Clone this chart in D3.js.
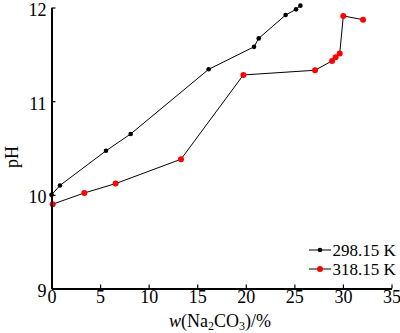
<!DOCTYPE html>
<html><head><meta charset="utf-8">
<script src="https://cdn.jsdelivr.net/npm/d3@7"></script>
<style>body{margin:0;background:#fff}svg{display:block}
svg text{font-family:"Liberation Serif","Tinos","Times New Roman","Nimbus Roman","Noto Serif","DejaVu Serif",serif;}
</style>
</head><body>
<svg id="c" width="400" height="333"></svg>
<script>
const w298 = [0, 0.87, 5.61, 8.15, 16.18, 20.85, 21.33, 24.1, 25.17, 25.62];
const pH298 = [10.0, 10.10, 10.47, 10.65, 11.34, 11.58, 11.67, 11.92, 11.98, 12.02];
const w318 = [0.12, 3.38, 6.6, 13.33, 19.75, 27.13, 28.88, 29.25, 29.67, 30.04, 32.07];
const pH318 = [9.90, 10.02, 10.12, 10.38, 11.28, 11.33, 11.43, 11.47, 11.51, 11.91, 11.87];
const seriesNames = ["298.15 K", "318.15 K"];
const xTicks = [0, 5, 10, 15, 20, 25, 30, 35];
const yTicks = [9, 10, 11, 12];

const svg = d3.select("#c");
const x = d3.scaleLinear().domain([0, 35]).range([51.5, 391.5]);
const y = d3.scaleLinear().domain([9, 12]).range([288.5, 7.5]);

const series = [
  {name: seriesNames[0], data: w298.map((v,i)=>[v,pH298[i]]), color: "#000", r: 2.3},
  {name: seriesNames[1], data: w318.map((v,i)=>[v,pH318[i]]), color: "#ff0000", r: 3}
];
const line = d3.line().x(d=>x(d[0])).y(d=>y(d[1]));
series.forEach(s=>{
  svg.append("path").attr("d", line(s.data)).attr("fill","none").attr("stroke","#000").attr("stroke-width",1);
});
series.forEach(s=>{
  svg.selectAll(null).data(s.data).enter().append("circle")
    .attr("cx",d=>x(d[0])).attr("cy",d=>y(d[1])).attr("r",s.r).attr("fill",s.color);
});

const fmt = d3.format("d");
const xa = svg.append("g").attr("transform","translate(0,288.5)")
  .call(d3.axisBottom(x).tickValues(xTicks).tickFormat(fmt).tickSize(-4).tickPadding(5).tickSizeOuter(0));
const ya = svg.append("g").attr("transform","translate(51.5,0)")
  .call(d3.axisLeft(y).tickValues(yTicks).tickFormat(fmt).tickSize(-4).tickPadding(5).tickSizeOuter(0));
[xa, ya].forEach(a=>{
  a.attr("font-family",null).attr("font-size",null);
  a.select(".domain").attr("stroke","#000").attr("stroke-width",2);
  a.selectAll(".tick line").attr("stroke","#000").attr("stroke-width",1.2);
  a.selectAll("text").style("font-size","18px").attr("fill","#000");
});
xa.selectAll("text").attr("dy","0.71em").attr("y",2);
ya.selectAll("text").attr("x",-5).attr("dy","0.45em");

const xt = svg.append("text").attr("x",220).attr("y",327).attr("text-anchor","middle")
  .style("font-size","18px").attr("fill","#000");
xt.append("tspan").attr("font-style","italic").text("w");
xt.append("tspan").text("(Na");
xt.append("tspan").style("font-size","12px").attr("dy",3).text("2");
xt.append("tspan").attr("dy",-3).text("CO");
xt.append("tspan").style("font-size","12px").attr("dy",3).text("3");
xt.append("tspan").attr("dy",-3).text(")/%");

svg.append("text").attr("transform","translate(18,157) rotate(-90)").attr("text-anchor","middle")
  .style("font-size","18px").attr("fill","#000").text("pH");

series.forEach((s,i)=>{
  const ly = 250 + i*19;
  svg.append("line").attr("x1",309).attr("x2",331).attr("y1",ly).attr("y2",ly).attr("stroke","#000").attr("stroke-width",1);
  svg.append("circle").attr("cx",320).attr("cy",ly).attr("r",s.r).attr("fill",s.color);
  svg.append("text").attr("x",332.5).attr("y",ly+6).style("font-size","17px").attr("fill","#000").text(s.name);
});
</script>
</body></html>
